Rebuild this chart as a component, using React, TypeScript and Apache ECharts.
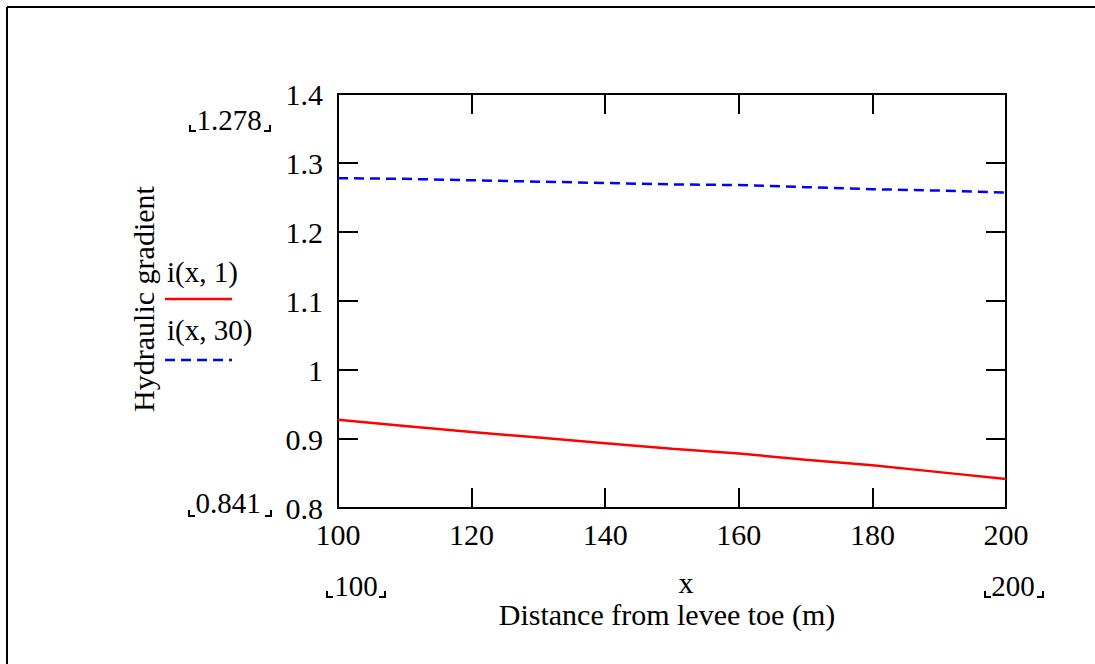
import React, { useEffect, useRef } from "react";
import * as echarts from "echarts";

const xValues = [100, 110, 120, 130, 140, 150, 160, 170, 180, 190, 200];
const i1 = [0.928, 0.919, 0.910, 0.902, 0.894, 0.886, 0.879, 0.870, 0.862, 0.852, 0.842];
const i30 = [1.278, 1.277, 1.275, 1.273, 1.271, 1.269, 1.268, 1.265, 1.262, 1.260, 1.257];
const seriesNames = ["i(x, 1)", "i(x, 30)"];
const yMarkers = ["1.278", "0.841"];
const xMarkers = ["100", "200"];
const yTitle = "Hydraulic gradient";
const xVarName = "x";
const xTitle = "Distance from levee toe (m)";

const FONT = "'Liberation Serif', 'Times New Roman', serif";

function corner(x: number, y: number, left: boolean) {
  // small Mathcad-style limit bracket
  return {
    type: "polyline",
    shape: {
      points: left
        ? [[x, y - 6], [x, y], [x + 6, y]]
        : [[x - 6, y], [x, y], [x, y - 6]],
    },
    style: { stroke: "#000", lineWidth: 2, fill: "none" },
    silent: true,
  };
}

export default function App() {
  const ref = useRef<HTMLDivElement>(null);
  useEffect(() => {
    if (!ref.current) return;
    const chart = echarts.init(ref.current, null, { renderer: "svg" });
    const axisLine = { show: true, lineStyle: { color: "#000", width: 2 } };
    const tick = { show: true, inside: true, length: 20, lineStyle: { color: "#000", width: 2 } };
    const txt = (text: string, x: number, y: number, size = 30, align = "center") => ({
      type: "text",
      x,
      y,
      style: {
        text,
        fontFamily: FONT,
        fontSize: size,
        fill: "#000",
        align,
        verticalAlign: "middle",
      },
      silent: true,
    });
    chart.setOption({
      animation: false,
      backgroundColor: "#fff",
      grid: { left: 338, top: 94, width: 668, height: 414, containLabel: false },
      xAxis: [
        {
          type: "value",
          min: 100,
          max: 200,
          interval: 20,
          position: "bottom",
          axisLine,
          axisTick: tick,
          splitLine: { show: false },
          axisLabel: {
            fontFamily: FONT,
            fontSize: 30,
            color: "#000",
            margin: 11,
          },
        },
        {
          type: "value",
          min: 100,
          max: 200,
          interval: 20,
          position: "top",
          axisLine,
          axisTick: tick,
          splitLine: { show: false },
          axisLabel: { show: false },
        },
      ],
      yAxis: [
        {
          type: "value",
          min: 0.8,
          max: 1.4,
          interval: 0.1,
          position: "left",
          axisLine,
          axisTick: tick,
          splitLine: { show: false },
          axisLabel: {
            fontFamily: FONT,
            fontSize: 30,
            color: "#000",
            margin: 15,
            padding: [16, 0, 0, 0],
            formatter: (v: number) => String(Math.round(v * 10) / 10),
          },
        },
        {
          type: "value",
          min: 0.8,
          max: 1.4,
          interval: 0.1,
          position: "right",
          axisLine,
          axisTick: tick,
          splitLine: { show: false },
          axisLabel: { show: false },
        },
      ],
      series: [
        {
          name: seriesNames[0],
          type: "line",
          data: xValues.map((x, k) => [x, i1[k]]),
          showSymbol: false,
          lineStyle: { color: "#ff0000", width: 2.5 },
          xAxisIndex: 0,
          yAxisIndex: 0,
        },
        {
          name: seriesNames[1],
          type: "line",
          data: xValues.map((x, k) => [x, i30[k]]),
          showSymbol: false,
          lineStyle: { color: "#0000ff", width: 2.5, type: [10, 6] },
          xAxisIndex: 0,
          yAxisIndex: 0,
        },
      ],
      graphic: [
        {
          type: "line",
          shape: { x1: 7, y1: 7, x2: 1095, y2: 7 },
          style: { stroke: "#000", lineWidth: 2 },
          silent: true,
        },
        {
          type: "line",
          shape: { x1: 7, y1: 7, x2: 7, y2: 664 },
          style: { stroke: "#000", lineWidth: 2 },
          silent: true,
        },
        {
          type: "text",
          x: 143,
          y: 299,
          rotation: Math.PI / 2,
          style: {
            text: yTitle,
            fontFamily: FONT,
            fontSize: 30,
            fill: "#000",
            align: "center",
            verticalAlign: "middle",
          },
          silent: true,
        },
        txt(seriesNames[0], 167, 272, 29, "left"),
        {
          type: "line",
          shape: { x1: 165, y1: 299, x2: 232, y2: 299 },
          style: { stroke: "#ff0000", lineWidth: 2.5 },
          silent: true,
        },
        txt(seriesNames[1], 167, 330, 29, "left"),
        {
          type: "line",
          shape: { x1: 165, y1: 360, x2: 232, y2: 360 },
          style: { stroke: "#0000ff", lineWidth: 2.5, lineDash: [10, 6] },
          silent: true,
        },
        txt(yMarkers[0], 229, 120, 29),
        corner(190, 131, true),
        corner(270, 131, false),
        txt(yMarkers[1], 228, 503, 29),
        corner(189, 516, true),
        corner(271, 516, false),
        txt(xMarkers[0], 356, 586, 29),
        corner(327, 597, true),
        corner(385, 597, false),
        txt(xMarkers[1], 1013, 586, 29),
        corner(985, 597, true),
        corner(1043, 597, false),
        txt(xVarName, 686, 582, 30),
        txt(xTitle, 667, 614, 30),
      ],
    });
    return () => chart.dispose();
  }, []);
  return (
    <div
      ref={ref}
      style={{ position: "fixed", left: 0, top: 0, width: 1095, height: 664 }}
    />
  );
}
